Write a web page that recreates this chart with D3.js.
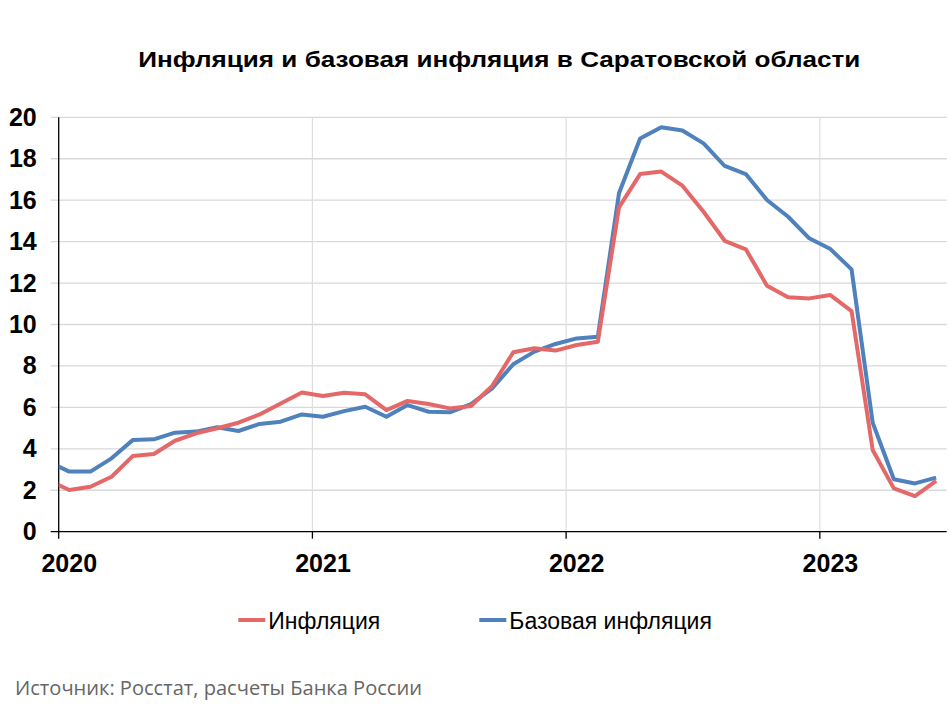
<!DOCTYPE html>
<html><head><meta charset="utf-8">
<script src="https://cdn.jsdelivr.net/npm/d3@7"></script>
<style>
html,body{margin:0;padding:0;background:#fff;}
svg{display:block;}
</style></head>
<body>
<script>
// ---- data ----
const months = ["2019-12",
 "2020-01","2020-02","2020-03","2020-04","2020-05","2020-06","2020-07","2020-08","2020-09","2020-10","2020-11","2020-12",
 "2021-01","2021-02","2021-03","2021-04","2021-05","2021-06","2021-07","2021-08","2021-09","2021-10","2021-11","2021-12",
 "2022-01","2022-02","2022-03","2022-04","2022-05","2022-06","2022-07","2022-08","2022-09","2022-10","2022-11","2022-12",
 "2023-01","2023-02","2023-03","2023-04","2023-05","2023-06"];
const inflation = [2.49,
 2.01,2.17,2.65,3.65,3.75,4.39,4.75,4.99,5.26,5.66,6.19,6.72,
 6.55,6.71,6.63,5.87,6.31,6.16,5.95,6.07,7.03,8.66,8.85,8.74,
 9.01,9.17,15.65,17.26,17.38,16.70,15.44,14.04,13.63,11.87,11.31,11.26,
 11.42,10.65,3.94,2.09,1.72,2.45];
const coreInflation = [3.38,
 2.90,2.90,3.54,4.42,4.46,4.78,4.83,5.04,4.86,5.20,5.31,5.66,
 5.55,5.82,6.03,5.55,6.11,5.79,5.76,6.16,6.92,8.08,8.69,9.06,
 9.33,9.41,16.33,18.98,19.52,19.36,18.74,17.65,17.26,16.01,15.20,14.16,
 13.64,12.66,5.26,2.53,2.33,2.61];
const years = ["2020","2021","2022","2023"];
const yTicks = [0,2,4,6,8,10,12,14,16,18,20];
const seriesNames = ["Инфляция","Базовая инфляция"];
const seriesColors = ["#E46868","#4F81BD"];
const titleText = "Инфляция и базовая инфляция в Саратовской области";
const sourceText = "Источник: Росстат, расчеты Банка России";

// ---- layout ----
const W = 950, H = 712;
const pLeft = 58.7, pRight = 946.7, pTop = 117.3, pBottom = 531.7;
const startYear = 2020, nMonths = 42;

const monthIndex = s => { const [yy,mm] = s.split("-").map(Number); return (yy - startYear)*12 + (mm-1); };

const x = d3.scaleLinear().domain([0, nMonths]).range([pLeft, pRight]);
const y = d3.scaleLinear().domain([0, 20]).range([pBottom, pTop]);

const svg = d3.select("body").append("svg").attr("width", W).attr("height", H)
  .style("font-family", "'Liberation Sans', Arial, sans-serif");

// title
svg.append("text").attr("x", 138.3).attr("y", 67.3)
  .attr("font-size", 22.5).attr("font-weight","bold").attr("fill","#000")
  .attr("textLength", 722).attr("lengthAdjust","spacingAndGlyphs").text(titleText);

// horizontal gridlines
svg.append("g").selectAll("line").data(yTicks.filter(d=>d>0)).join("line")
  .attr("x1", pLeft-8).attr("x2", pRight).attr("y1", d=>y(d)).attr("y2", d=>y(d))
  .attr("stroke","#d9d9d9").attr("stroke-width",1.3);

// vertical gridlines
svg.append("g").selectAll("line").data(years.slice(1)).join("line")
  .attr("x1", d=>x(monthIndex(d+"-01"))).attr("x2", d=>x(monthIndex(d+"-01")))
  .attr("y1", pTop).attr("y2", pBottom)
  .attr("stroke","#dedede").attr("stroke-width",1.2);

// y axis
const yAxis = svg.append("g").attr("transform",`translate(${pLeft},0)`)
  .call(d3.axisLeft(y).tickValues(yTicks).tickSize(0).tickPadding(22).tickFormat(d3.format("d")));
yAxis.select(".domain").remove();
yAxis.selectAll("text").attr("font-size",25).attr("font-weight","bold").attr("fill","#000")
  .attr("font-family","'Liberation Sans', Arial, sans-serif");
svg.append("line").attr("x1",pLeft).attr("x2",pLeft).attr("y1",pTop).attr("y2",pBottom)
  .attr("stroke","#000").attr("stroke-width",1.3);

// x axis
svg.append("line").attr("x1",pLeft-8).attr("x2",pRight).attr("y1",pBottom).attr("y2",pBottom)
  .attr("stroke","#000").attr("stroke-width",1.3);
svg.append("g").selectAll("line").data(years).join("line")
  .attr("x1", d=>x(monthIndex(d+"-01"))).attr("x2", d=>x(monthIndex(d+"-01")))
  .attr("y1", pBottom).attr("y2", pBottom+7).attr("stroke","#000").attr("stroke-width",1.3);
svg.append("g").selectAll("text").data(years).join("text")
  .attr("x", d=>x(monthIndex(d+"-01")+0.5)).attr("y", 571.5).attr("text-anchor","middle")
  .attr("font-size",25).attr("font-weight","bold").attr("fill","#000").text(d=>d);

// lines
svg.append("clipPath").attr("id","plotclip").append("rect")
  .attr("x",pLeft).attr("y",0).attr("width",pRight-pLeft).attr("height",H);
const line = d3.line().x(d=>x(d.i+0.5)).y(d=>y(d.v));
const seriesData = [inflation, coreInflation].map(arr => arr.map((v,k)=>({i: monthIndex(months[k]), v})));
const gLines = svg.append("g").attr("clip-path","url(#plotclip)");
[1,0].forEach(s => {
  gLines.append("path").datum(seriesData[s]).attr("d", line)
    .attr("fill","none").attr("stroke", seriesColors[s]).attr("stroke-width",4)
    .attr("stroke-linejoin","round").attr("stroke-linecap","butt");
});

// legend
const legendX = [238.3, 479.3];
seriesNames.forEach((name, s) => {
  const g = svg.append("g");
  g.append("line").attr("x1", legendX[s]).attr("x2", legendX[s]+27).attr("y1", 620).attr("y2", 620)
    .attr("stroke", seriesColors[s]).attr("stroke-width", 4);
  g.append("text").attr("x", legendX[s]+30).attr("y", 629.3).attr("font-size", 23)
    .attr("fill","#000").text(name);
});

// source
svg.append("text").attr("x", 15).attr("y", 695).attr("font-size", 20)
  .attr("fill","#666").attr("font-family","'Open Sans', 'Noto Sans', sans-serif")
  .attr("textLength", 407).attr("lengthAdjust","spacingAndGlyphs").text(sourceText);
</script>
</body></html>
